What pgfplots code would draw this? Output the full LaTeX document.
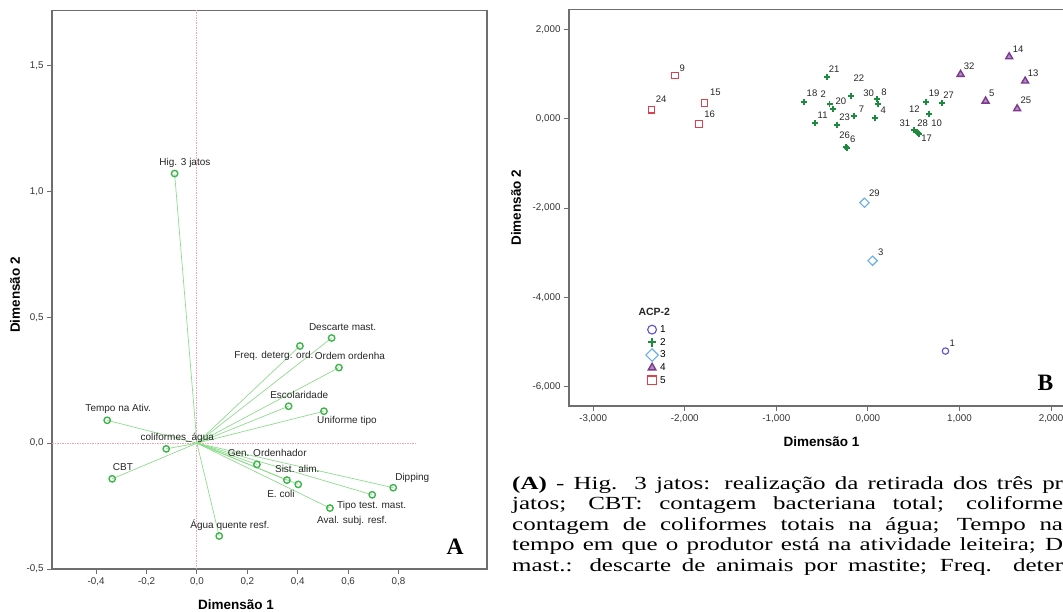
\documentclass[border=0pt]{standalone}
\usepackage{fontspec}
\setmainfont{Liberation Sans}
\newfontfamily\capfont{Liberation Serif}
\usepackage{pgfplots}
\pgfplotsset{compat=1.18}
\usepackage{pgfplotstable}

\definecolor{agreen}{HTML}{3DB54A}
\definecolor{aline}{HTML}{8EDB8E}
\definecolor{refpink}{HTML}{F3A2B4}
\definecolor{framegray}{HTML}{6E6E6E}
\definecolor{c1}{HTML}{5B4FD0}
\definecolor{c2}{HTML}{1E8A3E}
\definecolor{c3}{HTML}{6AAEE6}
\definecolor{c4}{HTML}{7B3A8C}
\definecolor{c4f}{HTML}{B98AC4}
\definecolor{c5}{HTML}{E0404C}

% Plot A: loadings
\pgfplotstableread[col sep=comma]{
x,y,dx,dy,lbl
-0.0885,1.0714,10.3,10.7,Hig. 3 jatos
0.5345,0.4179,11,10.7,Descarte mast.
0.4087,0.3861,-26,-9.6,Freq. deterg. ord.
0.5635,0.3004,11,11.3,Ordem ordenha
0.3639,0.1468,10.6,11,Escolaridade
0.5040,0.1270,23,-10,Uniforme tipo
-0.3560,0.0909,11,11,Tempo na Ativ.
-0.1218,-0.0226,11,10.7,coliformes\_água
-0.3361,-0.1417,10.7,11.7,CBT
0.2381,-0.0845,10.3,11.3,Gen. Ordenhador
0.3571,-0.1468,-6,-14.3,E. coli
0.4020,-0.1639,-1,15,Sist. alim.
0.7790,-0.1770,19,9.3,Dipping
0.6956,-0.2052,-0.6,-11.3,Tipo test. mast.
0.5278,-0.2579,22.3,-12.7,Aval. subj. resf.
0.0885,-0.3690,10.7,11.3,Água quente resf.
}\tabA

% Plot B: object scores by group
\pgfplotstableread[col sep=comma]{
x,y,dx,dy,lbl
0.847,-5.20,6.8,7.7,1
}\tabBone
\pgfplotstableread[col sep=comma]{
x,y,dx,dy,lbl
-0.442,0.927,6.6,8.3,21
-0.701,0.381,8.3,8.7,18
-0.419,0.322,-6.4,10,2
-0.380,0.210,7.7,7.7,20
-0.188,0.501,8.3,18.4,22
-0.153,0.054,7.6,7,7
-0.575,-0.096,7.4,7.7,11
-0.341,-0.134,8,7.7,23
-0.240,-0.640,-1.3,12.3,26
-0.230,-0.660,6,9.3,6
0.095,0.434,-8,6.6,30
0.110,0.336,6,11.7,8
0.079,0.009,8,7.7,4
0.632,0.381,8.3,8.4,19
0.805,0.345,7,8.3,27
0.667,0.112,-14.7,4.4,12
0.502,-0.260,-9,7.6,31
0.532,-0.304,6,9,28
0.546,-0.320,18.7,9.7,10
0.560,-0.349,7.4,-4,17
}\tabBtwo
\pgfplotstableread[col sep=comma]{
x,y,dx,dy,lbl
-0.038,-1.880,10,10,29
0.051,-3.179,8.3,8.7,3
}\tabBthree
\pgfplotstableread[col sep=comma]{
x,y,dx,dy,lbl
1.543,1.388,9,7.7,14
1.012,0.994,8.6,8.3,32
1.717,0.844,8,8.3,13
1.285,0.396,6.3,7.3,5
1.630,0.224,8.7,8.7,25
}\tabBfour
\pgfplotstableread[col sep=comma]{
x,y,dx,dy,lbl
-2.105,0.971,7.2,7.3,9
-2.364,0.202,9.7,10.4,24
-1.783,0.358,10.7,10.4,15
-1.842,-0.119,10.4,9.7,16
}\tabBfive

\pgfplotsset{
  spssaxis/.style={
    scale only axis,
    axis line style={framegray, line width=1.3pt},
    tick pos=left, tick align=outside,
    major tick length=5pt,
    every tick/.style={framegray, line width=1pt},
    tick label style={font=\fontsize{9.8}{10}\selectfont, text=black!80},
    label style={font=\bfseries\fontsize{13.5}{14}\selectfont},
    /pgf/number format/assume math mode=true,
  },
  lbl/.style={only marks, point meta=explicit symbolic, nodes near coords,
    visualization depends on={\thisrow{dx}\as\ldx},
    visualization depends on={\thisrow{dy}\as\ldy},
    nodes near coords style={anchor=center, xshift=\ldx pt, yshift=\ldy pt,
      text=black!85, inner sep=0pt, font=#1}},
}

\begin{document}
\begin{tikzpicture}[x=1pt,y=1pt]
\useasboundingbox (0,0) rectangle (1063,611);
\clip (0,0) rectangle (1063,611);

% ---------------- Plot A ----------------
\begin{axis}[spssaxis,
  at={(52pt,42pt)}, anchor=south west,
  width=435pt, height=558.7pt,
  xmin=-0.575, xmax=1.151, ymin=-0.5, ymax=1.72,
  xtick={-0.4,-0.2,0,0.2,0.4,0.6,0.8},
  ytick={-0.5,0,0.5,1,1.5},
  xticklabel style={/pgf/number format/.cd, fixed, fixed zerofill, precision=1, use comma},
  yticklabel style={/pgf/number format/.cd, fixed, fixed zerofill, precision=1, use comma},
  xlabel={Dimensão 1}, ylabel={Dimensão 2},
  xlabel style={at={(axis description cs:0.423,-0.0644)}, anchor=center},
  ylabel style={at={(axis description cs:-0.085,0.4904)}, anchor=center},
  clip=false,
]
\addplot[draw=refpink, line width=1.1pt, dash pattern=on 1.5pt off 1pt] coordinates {(0,-0.5) (0,1.72)};
\addplot[draw=refpink, line width=1.1pt, dash pattern=on 1.5pt off 1pt] coordinates {(-0.575,0) (0.87,0)};
\addplot[aline, line width=0.7pt, -, quiver={u=\thisrow{x}, v=\thisrow{y}}] table[x expr=0, y expr=0] {\tabA};
\addplot[lbl={\fontsize{10}{10}\selectfont}, mark=o, mark size=3.2pt, draw=agreen,
  mark options={line width=1.4pt, draw=agreen}] table[x=x, y=y, meta=lbl] {\tabA};
\end{axis}
\node[font=\capfont\bfseries\fontsize{23.5}{24}\selectfont, inner sep=0pt] at (455,64.3) {A};

% ---------------- Plot B ----------------
\begin{axis}[spssaxis,
  at={(569pt,205pt)}, anchor=south west,
  width=537pt, height=396.7pt,
  xmin=-3.264, xmax=2.6, ymin=-6.43, ymax=2.45,
  xtick={-3,-2,-1,0,1,2},
  ytick={-6,-4,-2,0,2},
  xticklabel style={/pgf/number format/.cd, fixed, fixed zerofill, precision=3, use comma},
  yticklabel style={/pgf/number format/.cd, fixed, fixed zerofill, precision=3, use comma},
  xlabel={Dimensão 1}, ylabel={Dimensão 2},
  xlabel style={at={(axis description cs:0.470,-0.089)}, anchor=center},
  ylabel style={at={(axis description cs:-0.0987,0.5)}, anchor=center},
  clip=false,
  legend style={draw=none, fill=none, at={(axis cs:-2.427,-4.574)}, anchor=north west,
    font=\fontsize{10}{10}\selectfont, row sep=0pt, inner sep=0pt, column sep=1.5pt,
    nodes={inner sep=0.3pt, minimum height=12.7pt}},
  legend cell align=left,
  legend image code/.code={\draw[#1] plot coordinates {(0pt,0pt)};},
  legend image post style={mark size=4.4pt},
]
\addplot[lbl={\fontsize{9.5}{10}\selectfont}, mark=o, mark size=3.2pt, draw=c1,
  mark options={line width=1.1pt, draw=c1}] table[x=x, y=y, meta=lbl] {\tabBone};
\addlegendentry{1}
\addplot[lbl={\fontsize{9.5}{10}\selectfont}, mark=+, mark size=3pt, draw=c2,
  mark options={line width=1.9pt, draw=c2}] table[x=x, y=y, meta=lbl] {\tabBtwo};
\addlegendentry{2}
\addplot[lbl={\fontsize{9.5}{10}\selectfont}, mark=square, mark size=3.3pt, draw=c3,
  mark options={line width=1.1pt, draw=c3, rotate=45}] table[x=x, y=y, meta=lbl] {\tabBthree};
\addlegendentry{3}
\addplot[lbl={\fontsize{9.5}{10}\selectfont}, mark=triangle*, mark size=4pt, draw=c4,
  mark options={line width=1.4pt, draw=c4, fill=c4f}] table[x=x, y=y, meta=lbl] {\tabBfour};
\addlegendentry{4}
\addplot[lbl={\fontsize{9.5}{10}\selectfont}, mark=square, mark size=3.3pt, draw=c5,
  mark options={line width=1.1pt, draw=c5}] table[x=x, y=y, meta=lbl] {\tabBfive};
\addlegendentry{5}
\node[font=\bfseries\fontsize{10.5}{11}\selectfont, text=black!85] at (axis cs:-2.333,-4.321) {ACP-2};
\end{axis}
\node[font=\capfont\bfseries\fontsize{23.5}{24}\selectfont, inner sep=0pt] at (1045.4,228.3) {B};

% ---------------- Caption text ----------------
\begin{scope}[every node/.style={anchor=base west, inner sep=0pt, font=\capfont\fontsize{18.5}{20}\selectfont}]
\node at (512,122) {\scalebox{1.35}[1]{\makebox[408pt][s]{\textbf{(A)} - Hig. 3 jatos: realização da retirada dos três pr}}};
\node at (512,101.5) {\scalebox{1.35}[1]{\makebox[408pt][s]{jatos; CBT: contagem bacteriana total; coliforme}}};
\node at (512,81) {\scalebox{1.35}[1]{\makebox[408pt][s]{contagem de coliformes totais na água; Tempo na}}};
\node at (512,60.5) {\scalebox{1.35}[1]{\makebox[408pt][s]{tempo em que o produtor está na atividade leiteira; D}}};
\node at (512,40) {\scalebox{1.35}[1]{\makebox[408pt][s]{mast.: descarte de animais por mastite; Freq. deter}}};
\end{scope}
\end{tikzpicture}
\end{document}
